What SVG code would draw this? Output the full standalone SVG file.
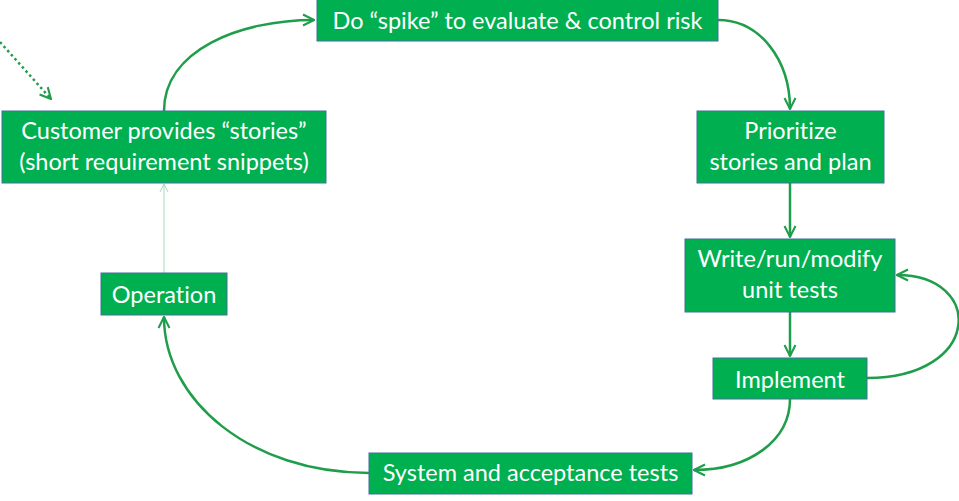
<svg xmlns="http://www.w3.org/2000/svg" width="959" height="501" viewBox="0 0 959 501">
<style>
.box{fill:#00B050;stroke:#41719C;stroke-width:1}
.t{font-family:Lato,"Liberation Sans",sans-serif;font-size:23.5px;fill:#ffffff;text-anchor:middle;font-variant-ligatures:none;font-feature-settings:"liga" 0}
.c{fill:none;stroke:#1E9E4A;stroke-width:2.5}
</style>
<defs>
<marker id="ah" viewBox="0 0 10 10" refX="9" refY="5" markerWidth="5.5" markerHeight="5.5" orient="auto" markerUnits="strokeWidth">
<path d="M1,1 L9,5 L1,9" fill="none" stroke="#1E9E4A" stroke-width="1.5"/>
</marker>
<marker id="ahl" viewBox="0 0 10 10" refX="9" refY="5" markerWidth="10" markerHeight="10" orient="auto" markerUnits="strokeWidth">
<path d="M1,1 L9,5 L1,9" fill="none" stroke="#A9D8BE" stroke-width="1"/>
</marker>
</defs>
<g id="connectors">
<path class="c" d="M164,111 C164,50 240,20 314,20" marker-end="url(#ah)"/>
<path class="c" d="M718,20 C760,20 790,60 790,109" marker-end="url(#ah)"/>
<path class="c" d="M790,183 L790,237" marker-end="url(#ah)"/>
<path class="c" d="M790,312 L790,356" marker-end="url(#ah)"/>
<path class="c" d="M867,378 C982,378 985,275 897,275" marker-end="url(#ah)"/>
<path class="c" d="M790,399 C790,440 750,470 694,470" marker-end="url(#ah)"/>
<path class="c" d="M369,473 C250,473 164,400 164,317" marker-end="url(#ah)"/>
<path d="M164,273 L164,184" fill="none" stroke="#A9D8BE" stroke-width="1" marker-end="url(#ahl)"/>
<path class="c" d="M0,42 L51,99" stroke-dasharray="2.5,3" marker-end="url(#ah)"/>
</g>
<g id="spike"><rect class="box" x="317" y="-1" width="401" height="42"/><text class="t" x="517.5" y="29">Do “spike” to evaluate &amp; control risk</text></g>
<g id="customer"><rect class="box" x="2" y="111" width="324" height="72"/><text class="t" x="164" y="139">Customer provides “stories”</text><text class="t" x="164" y="170">(short requirement snippets)</text></g>
<g id="prioritize"><rect class="box" x="697" y="111" width="187" height="72"/><text class="t" x="790.5" y="139">Prioritize</text><text class="t" x="790.5" y="170">stories and plan</text></g>
<g id="write"><rect class="box" x="685" y="239" width="210" height="73"/><text class="t" x="790" y="267">Write/run/modify</text><text class="t" x="790" y="298">unit tests</text></g>
<g id="implement"><rect class="box" x="713" y="358" width="154" height="41"/><text class="t" x="790" y="388">Implement</text></g>
<g id="system"><rect class="box" x="369" y="453" width="323" height="41"/><text class="t" x="530.5" y="481">System and acceptance tests</text></g>
<g id="operation"><rect class="box" x="101" y="273" width="126" height="42"/><text class="t" x="164" y="303">Operation</text></g>
</svg>
